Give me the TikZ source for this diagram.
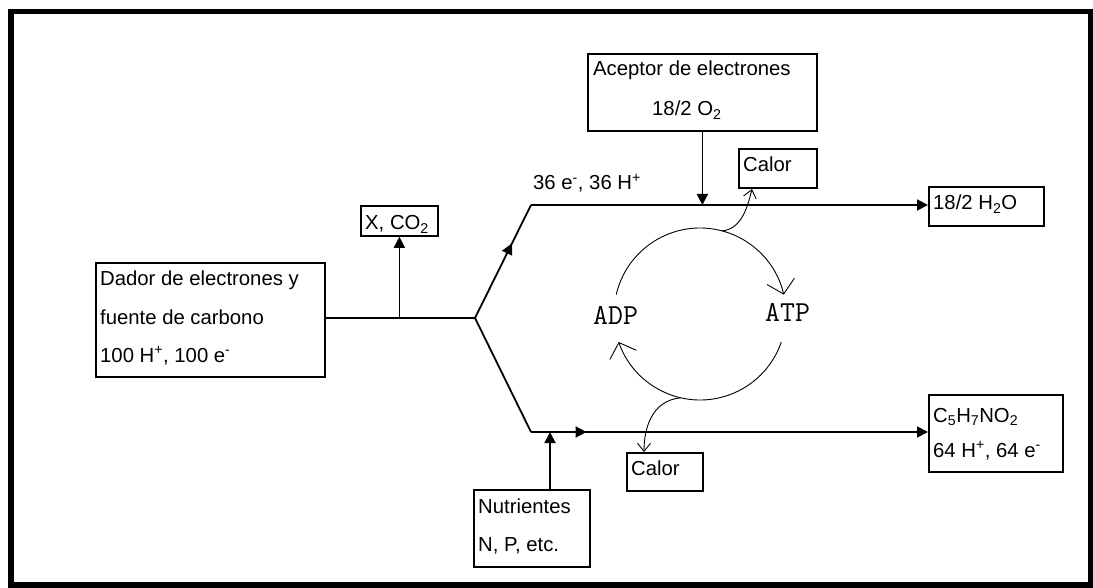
\documentclass[tikz,border=0pt]{standalone}
\usepackage{fontspec}
\setmainfont{Liberation Sans}
\usetikzlibrary{arrows.meta,decorations.markings}
\newcommand\supx[1]{\textsuperscript{#1}}
\newcommand\subx[1]{\textsubscript{#1}}
\begin{document}
\begin{tikzpicture}[x=1pt,y=-1pt,
  box/.style={draw, line width=1.8pt, inner sep=0pt, anchor=north west},
  txt/.style={anchor=base west, inner sep=0pt, font=\fontsize{20.3}{24}\selectfont},
  mono/.style={anchor=base west, inner sep=0pt, font=\ttfamily\fontsize{29}{32}\selectfont},
  conn/.style={line width=1.8pt},
  arr/.style={conn, -{Triangle[length=11pt,width=11pt]}},
  midarr/.style={postaction={decorate}, decoration={markings,
     mark=at position #1 with {\arrow{Triangle[length=11pt,width=11pt]}}}},
  cyc/.style={line width=0.9pt, -{Straight Barb[length=13pt,width=28pt,line width=0.9pt]}},
  heat/.style={line width=0.9pt, -{Straight Barb[length=8pt,width=13pt,line width=0.9pt]}}
]
\useasboundingbox (0,0) rectangle (1093,588);
\draw[line width=5.5pt] (11,11.5) rectangle (1091,585);

% boxes
\node[box, minimum width=229pt, minimum height=114pt] (dador) at (95,262) {};
\node[box, minimum width=229pt, minimum height=77pt] (acep) at (587,53) {};
\node[box, minimum width=78pt, minimum height=39pt] (calor1) at (738,148) {};
\node[box, minimum width=77pt, minimum height=30pt] (xco) at (360,205) {};
\node[box, minimum width=115pt, minimum height=39pt] (h2o) at (928,186) {};
\node[box, minimum width=134pt, minimum height=77pt] (c5) at (928,394) {};
\node[box, minimum width=116pt, minimum height=77pt] (nutr) at (473,489) {};
\node[box, minimum width=76pt, minimum height=38pt] (calor2) at (626,452) {};

% texts
\node[txt] (d1) at (100,286) {Dador de electrones y};
\node[txt] (d2) at (100,324) {fuente de carbono};
\node[txt] (d3) at (100,362) {100 H\supx{+}, 100 e\supx{-}};
\node[txt] (a1) at (593,76) {Aceptor de electrones};
\node[txt] (a2) at (652,116) {18/2 O\subx{2}};
\node[txt] (c1) at (743,172) {Calor};
\node[txt] (x1) at (365,230) {X, CO\subx{2}};
\node[txt] (h1) at (933,210) {18/2 H\subx{2}O};
\node[txt] (p1) at (933,422) {C\subx{5}H\subx{7}NO\subx{2}};
\node[txt] (p2) at (933,457) {64 H\supx{+}, 64 e\supx{-}};
\node[txt] (n1) at (478,513) {Nutrientes};
\node[txt] (n2) at (478,551) {N, P, etc.};
\node[txt] (c2) at (631,475) {Calor};
\node[txt] (lab) at (533,190) {36 e\supx{-}, 36 H\supx{+}};
\node[mono] (adp) at (593,324) {ADP};
\node[mono] (atp) at (765,321) {ATP};

% connectors
\coordinate (branch) at (475,318);
\coordinate (tc) at (531,205);
\coordinate (bc) at (531,432);
\coordinate (nin) at (550,432);
\coordinate (cc) at (700,314);

\draw[conn] (dador.east |- branch) -- (branch);
\draw[arr] (xco.south |- branch) -- (xco.south);
\draw[conn, midarr=0.66] (branch) -- (tc);
\draw[arr] (tc) -- (h2o.west |- tc);
\draw[arr] (acep.south) -- (acep.south |- tc);
\draw[conn] (branch) -- (bc);
\draw[arr, midarr=0.14] (bc) -- (c5.west |- bc);
\draw[arr] (nin |- nutr.north) -- (nin);

% ATP cycle
\draw[cyc] (cc) ++(-167:86) arc[start angle=-167, end angle=-13, radius=86];
\draw[cyc] (cc) ++(19:86) arc[start angle=19, end angle=161, radius=86];

% heat
\draw[heat] (cc) ++(-75:86) .. controls +(20,-2) and +(-4,16) .. (752,189);
\draw[heat] (cc) ++(103:86) .. controls +(-30,3) and +(0,-22) .. (calor2.north -| 644,0);
\end{tikzpicture}
\end{document}
